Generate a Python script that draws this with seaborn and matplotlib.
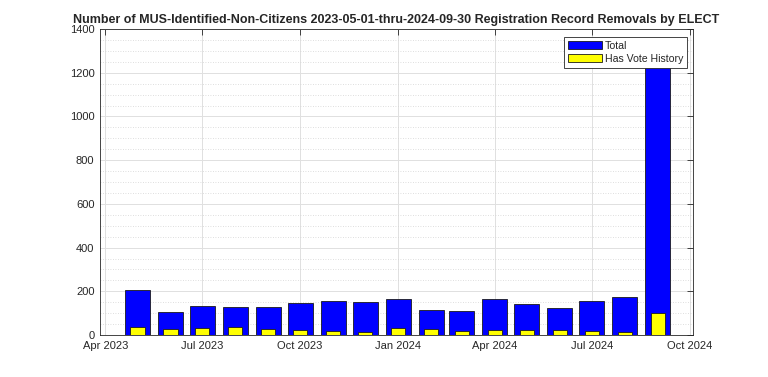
import matplotlib
matplotlib.use("Agg")
import matplotlib.pyplot as plt
import matplotlib.dates as mdates
from matplotlib.ticker import MultipleLocator
import seaborn as sns
import pandas as pd

months = pd.date_range("2023-05-01", "2024-09-01", freq="MS")
total = [205, 107, 133, 127, 127, 148, 157, 150, 165, 114, 110, 163, 142, 124, 154, 175, 1300]
vote_history = [35, 26, 30, 35, 27, 23, 20, 12, 30, 26, 18, 23, 21, 21, 18, 15, 99]

sns.set_style("white")
plt.rcParams["font.family"] = ["Liberation Sans", "DejaVu Sans"]

df = pd.DataFrame({"month": mdates.date2num(months.to_pydatetime()),
                   "total": total, "vote": vote_history})

fig = plt.figure(figsize=(7.68, 3.77), dpi=100)
ax = fig.add_axes([100 / 768, 1 - 335 / 377, 593 / 768, 306 / 377])

sns.barplot(data=df, x="month", y="total", native_scale=True, width=0.81,
            color="#0000ff", saturation=1, edgecolor="#1a1a1a", linewidth=0.6,
            label="Total", ax=ax)
sns.barplot(data=df, x="month", y="vote", native_scale=True, width=0.47,
            color="#ffff00", saturation=1, edgecolor="#1a1a1a", linewidth=0.6,
            label="Has Vote History", ax=ax)

ax.set_xlim(mdates.date2num(pd.Timestamp("2023-03-27")), mdates.date2num(pd.Timestamp("2024-10-04")))
ax.set_ylim(0, 1400)
ax.xaxis.set_major_locator(mdates.MonthLocator(bymonth=[1, 4, 7, 10]))
ax.xaxis.set_major_formatter(mdates.DateFormatter("%b %Y"))
ax.yaxis.set_major_locator(MultipleLocator(200))
ax.yaxis.set_minor_locator(MultipleLocator(50))
ax.set_xlabel("")
ax.set_ylabel("")

ax.grid(True, which="major", color="#e0e0e0", linewidth=0.7)
ax.grid(True, which="minor", axis="y", color="#d4d4d4", linestyle=(0, (1, 2)), linewidth=0.6)
ax.set_axisbelow(True)
ax.tick_params(which="major", direction="in", length=4, width=0.6, top=True, right=True,
               labelsize=8, labelcolor="#262626", color="#262626", pad=4)
ax.tick_params(which="minor", length=0, top=False, right=False)
for s in ax.spines.values():
    s.set_color("#262626")
    s.set_linewidth(0.6)

ax.set_title("Number of MUS-Identified-Non-Citizens 2023-05-01-thru-2024-09-30 Registration Record Removals by ELECT",
             fontsize=9, fontweight="bold", pad=4)

leg = ax.legend(loc="upper right", bbox_to_anchor=(0.99, 0.974), fontsize=7.6, frameon=True,
                fancybox=False, edgecolor="#262626", framealpha=1, handlelength=3.3, handleheight=0.85,
                borderpad=0.35, labelspacing=0.3, handletextpad=0.25, borderaxespad=0)
leg.get_frame().set_linewidth(0.6)

fig.savefig("out.png", dpi=100)
